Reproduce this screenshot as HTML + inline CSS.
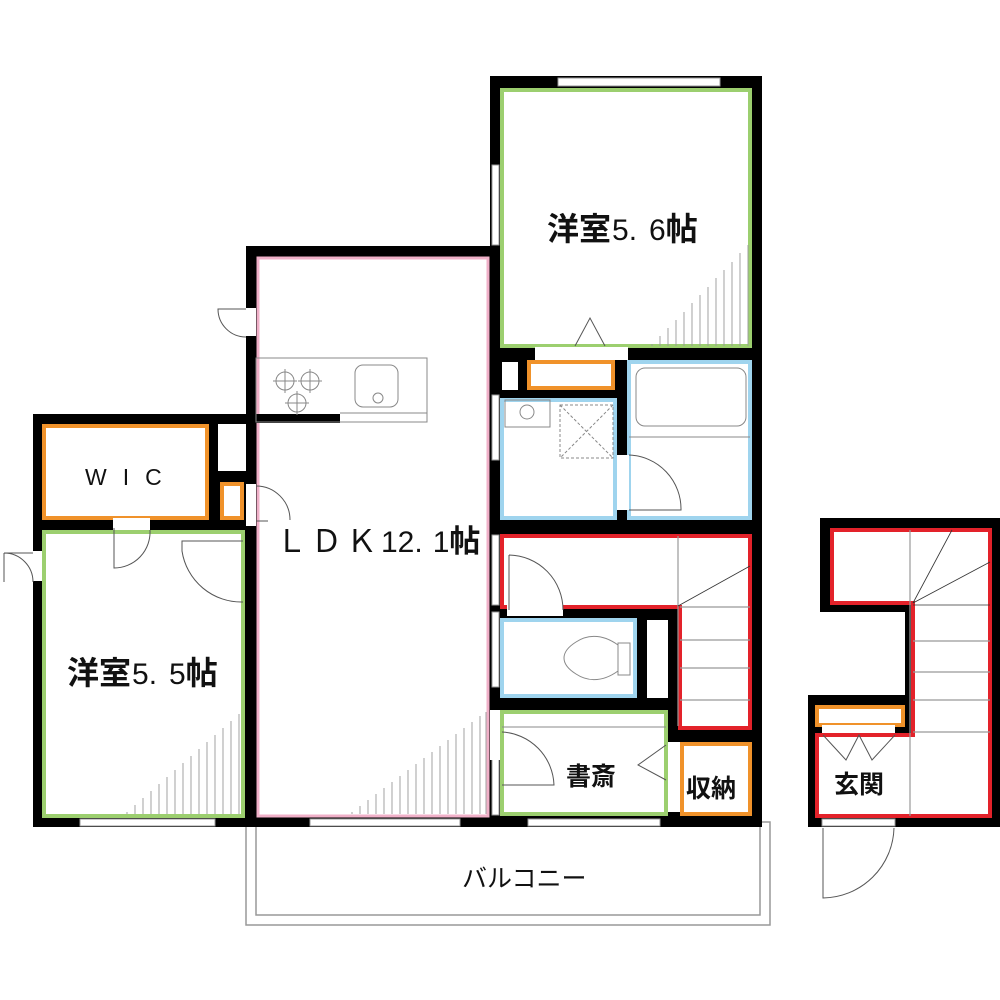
<!DOCTYPE html>
<html><head><meta charset="utf-8"><style>
html,body{margin:0;padding:0;background:#fff;}
svg{display:block}
text{font-family:"Liberation Sans","Noto Sans CJK JP",sans-serif;fill:#111;}
</style></head><body>
<svg width="1000" height="1000" viewBox="0 0 1000 1000" xmlns="http://www.w3.org/2000/svg">
<rect x="246" y="822" width="524" height="103" fill="#fff" stroke="#999" stroke-width="1.5"/>
<rect x="256" y="822" width="504" height="93" fill="none" stroke="#999" stroke-width="1.5"/>
<rect x="490" y="76" width="272" height="751" fill="#000"/>
<rect x="246" y="246" width="254" height="581" fill="#000"/>
<rect x="33" y="414" width="223" height="413" fill="#000"/>
<polygon points="820,518 1000,518 1000,827 808,827 808,695 905,695 905,612 820,612" fill="#000"/>

<rect x="502" y="90" width="248" height="256" fill="#fff" stroke="#9ccf6f" stroke-width="4"/>
<rect x="258" y="258" width="230" height="558" fill="#fff" stroke="#f0b0c8" stroke-width="3"/>
<rect x="502" y="362" width="16" height="28" fill="#fff"/>
<rect x="529" y="362" width="84" height="26" fill="#fff" stroke="#f0922a" stroke-width="4"/>
<rect x="502" y="400" width="113" height="118" fill="#fff" stroke="#9fd4ee" stroke-width="4"/>
<rect x="629" y="362" width="121" height="156" fill="#fff" stroke="#9fd4ee" stroke-width="4"/>
<polygon points="502,536 750,536 750,728 680,728 680,607 502,607" fill="#fff" stroke="#e3222a" stroke-width="4"/>
<rect x="502" y="620" width="133" height="76" fill="#fff" stroke="#9fd4ee" stroke-width="4"/>
<rect x="647" y="620" width="21" height="78" fill="#fff"/>
<rect x="502" y="712" width="164" height="102" fill="#fff" stroke="#9ccf6f" stroke-width="4"/>
<rect x="682" y="744" width="68" height="70" fill="#fff" stroke="#f0922a" stroke-width="4"/>
<rect x="44" y="426" width="163" height="92" fill="#fff" stroke="#f0922a" stroke-width="4"/>
<rect x="218" y="424" width="28" height="47" fill="#fff"/>
<rect x="222" y="484" width="20" height="34" fill="#fff" stroke="#f0922a" stroke-width="4"/>
<rect x="44" y="532" width="199" height="284" fill="#fff" stroke="#9ccf6f" stroke-width="4"/>
<rect x="246" y="414" width="94" height="9" fill="#000"/>
<polygon points="832,530 990,530 990,816 817,816 817,735 913,735 913,603 832,603" fill="#fff" stroke="#e3222a" stroke-width="4"/>
<rect x="817" y="707" width="86" height="18" fill="#fff" stroke="#f0922a" stroke-width="4"/>
<rect x="822" y="725" width="73" height="8" fill="#fff"/>

<g fill="#fff" stroke="#999" stroke-width="1">
<rect x="558" y="78" width="162" height="8"/>
<rect x="492" y="165" width="7" height="80"/>
<rect x="492" y="395" width="7" height="65"/>
<rect x="492" y="535" width="7" height="70"/>
<rect x="492" y="612" width="7" height="75"/>
<rect x="492" y="735" width="7" height="80"/>
<rect x="80" y="819" width="135" height="7"/>
<rect x="310" y="819" width="150" height="7"/>
<rect x="528" y="819" width="132" height="7"/>
<rect x="822" y="819" width="73" height="7"/>
</g>
<g fill="#fff">
<rect x="535" y="347" width="93" height="13"/>
<rect x="246" y="308" width="10" height="28"/>
<rect x="33" y="551" width="9" height="30"/>
<rect x="113" y="518" width="37" height="12"/>
<rect x="246" y="484" width="10" height="42"/>
<rect x="617" y="455" width="12" height="55"/>
<rect x="507" y="603" width="56" height="13"/>
<rect x="490" y="710" width="10" height="50"/>
<rect x="668" y="742" width="12" height="70"/>
</g>
<g fill="none" stroke="#555" stroke-width="1">
<path d="M575,346 L590,318 L605,346"/>
<path d="M246,309 L218,309 A28,28 0 0 0 246,337"/>
<path d="M33,553 L4,553 A29,29 0 0 1 33,582 M4,553 L4,582"/>
<path d="M114,528 L114,568 A36,36 0 0 0 150,530"/>
<path d="M243,541 L182,541 L182,551 A60,60 0 0 0 243,602"/>
<path d="M256,486 A34,34 0 0 1 290,520 M256,521 L268,521"/>
<path d="M629,455 A54,54 0 0 1 681,510 L629,510"/>
<path d="M509,555 A55,55 0 0 1 563,610 M509,555 L509,610"/>
<path d="M502,732 A55,55 0 0 1 554,785 L502,785"/>
<path d="M666,745 L638,765 L666,780"/>
<path d="M823,828 L823,898 A72,72 0 0 0 894,828"/>
<path d="M823,735 L846,760 L859,735 L872,760 L895,735"/>
</g>
<g stroke="#999" stroke-width="1.2" fill="none">
<line x1="678" y1="536" x2="678" y2="726"/>
<line x1="680" y1="640" x2="750" y2="640"/>
<line x1="680" y1="668" x2="750" y2="668"/>
<line x1="680" y1="700" x2="750" y2="700"/>
<line x1="680" y1="607" x2="750" y2="607"/>
<line x1="910" y1="530" x2="910" y2="816"/>
<line x1="913" y1="641" x2="990" y2="641"/>
<line x1="913" y1="672" x2="990" y2="672"/>
<line x1="913" y1="700" x2="990" y2="700"/>
<line x1="913" y1="732" x2="990" y2="732"/>
</g>
<g stroke="#333" stroke-width="0.8">
<line x1="678" y1="606" x2="750" y2="566"/>
<line x1="913" y1="603" x2="952" y2="530"/>
<line x1="913" y1="603" x2="990" y2="562"/>
<line x1="913" y1="605" x2="990" y2="605"/>
</g>
<g fill="none" stroke="#888" stroke-width="1">
<rect x="256" y="358" width="171" height="64"/>
<line x1="340" y1="413" x2="427" y2="413"/>
<rect x="355" y="365" width="43" height="42" rx="8"/>
<circle cx="378" cy="398" r="5"/>
<circle cx="285" cy="381" r="9"/><circle cx="310" cy="381" r="9"/><circle cx="297" cy="403" r="9"/>
<path d="M273,381h24M285,369v24M298,381h24M310,369v24M285,403h24M297,391v24"/>
<rect x="505" y="400" width="45" height="27"/>
<circle cx="527" cy="412" r="7"/>
<rect x="560" y="405" width="53" height="53" stroke-dasharray="3,2"/>
<path d="M560,405L613,458M613,405L560,458" stroke-dasharray="3,2"/>
<rect x="636" y="368" width="110" height="58" rx="9"/>
<line x1="629" y1="437" x2="750" y2="437"/>
<path d="M618,645 C600,632 585,636 576,642 C560,652 560,664 576,674 C585,680 600,684 618,671 M618,643 h12 v32 h-12 Z"/>
<line x1="502" y1="727" x2="666" y2="727"/>
</g>
<g stroke="#999" stroke-width="0.9">
<path d="M652,346V344M660,346V336M668,346V328M676,346V320M684,346V312M692,346V303M700,346V295M708,346V287M716,346V278M724,346V270M732,346V262M740,346V253M748,346V245"/>
<path d="M127,814V812M135,814V805M143,814V798M151,814V791M159,814V784M167,814V777M175,814V770M183,814V763M191,814V756M199,814V749M207,814V742M215,814V735M223,814V728M231,814V721M239,814V714"/>
<path d="M352,814V812M360,814V806M368,814V800M376,814V794M384,814V788M392,814V782M400,814V776M408,814V770M416,814V764M424,814V758M432,814V752M440,814V746M448,814V740M456,814V734M464,814V728M472,814V722M480,814V716M486,814V712"/>
</g>
<text x="547" y="240" font-size="32" font-weight="bold">洋室<tspan font-size="30" font-weight="normal" transform="" dx="1">5.</tspan><tspan font-size="30" font-weight="normal" dx="12">6</tspan>帖</text>
<text x="67" y="684" font-size="32" font-weight="bold">洋室<tspan font-size="30" font-weight="normal" dx="1">5.</tspan><tspan font-size="30" font-weight="normal" dx="12">5</tspan>帖</text>
<text x="276" y="552" font-size="31" letter-spacing="4">ＬＤＫ<tspan font-size="30" letter-spacing="0">12.</tspan><tspan font-size="30" dx="10" letter-spacing="0">1</tspan><tspan letter-spacing="0" font-weight="bold">帖</tspan></text>
<text x="85" y="485" font-size="23" letter-spacing="16">WIC</text>
<text x="566" y="785" font-size="25" font-weight="bold">書斎</text>
<text x="686" y="797" font-size="25" font-weight="bold">収納</text>
<text x="834" y="793" font-size="25" font-weight="bold">玄関</text>
<text x="462" y="887" font-size="25">バルコニー</text>
</svg>
</body></html>
